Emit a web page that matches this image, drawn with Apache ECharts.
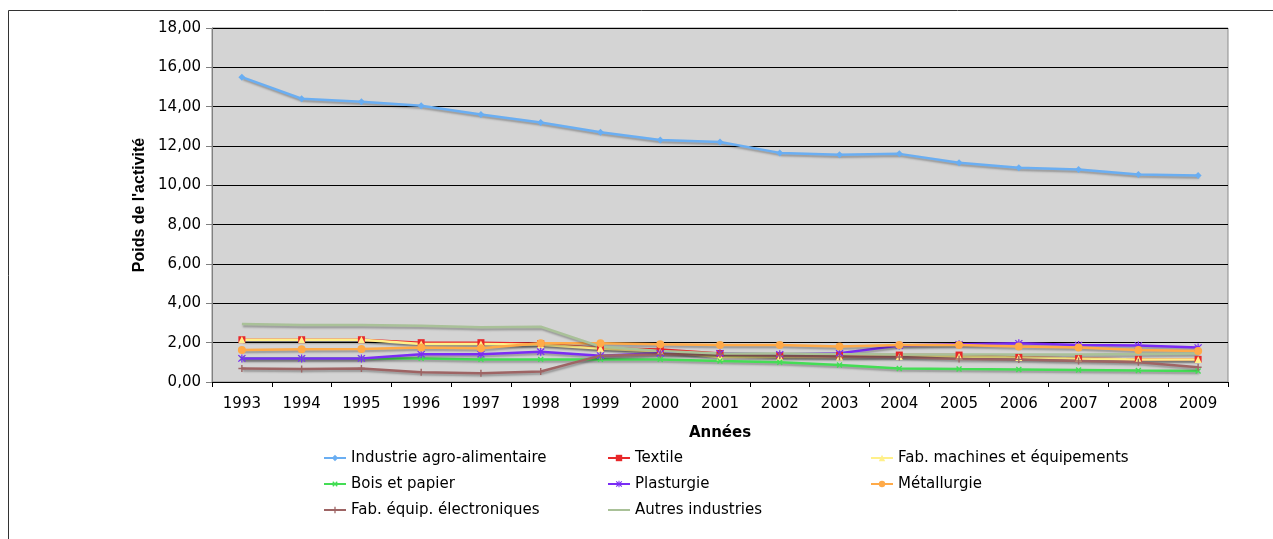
<!DOCTYPE html>
<html>
<head>
<meta charset="utf-8">
<script src="https://cdn.jsdelivr.net/npm/echarts@6/dist/echarts.min.js"></script>
<style>
  html, body { margin: 0; padding: 0; background: #fff; }
  #chart { width: 1273px; height: 539px; }
</style>
</head>
<body>
<div id="chart"></div>
<script>
// years on the x axis
let annees = ["1993", "1994", "1995", "1996", "1997", "1998", "1999", "2000", "2001",
  "2002", "2003", "2004", "2005", "2006", "2007", "2008", "2009"];

// weight of each activity
let agroAlimentaire = [15.5, 14.4, 14.25, 14.05, 13.6, 13.2, 12.7, 12.3, 12.2, 11.65, 11.55, 11.6, 11.15, 10.9, 10.8, 10.55, 10.5];
let textile = [2.15, 2.15, 2.15, 2.0, 2.0, 1.95, 1.72, 1.65, 1.45, 1.35, 1.37, 1.37, 1.37, 1.25, 1.19, 1.15, 1.15];
let machines = [2.15, 2.15, 2.15, 1.93, 1.93, 1.9, 1.7, 1.55, 1.27, 1.27, 1.27, 1.3, 1.3, 1.25, 1.2, 1.15, 1.15];
let boisPapier = [1.2, 1.2, 1.2, 1.2, 1.15, 1.15, 1.15, 1.15, 1.07, 1.0, 0.86, 0.69, 0.66, 0.64, 0.61, 0.58, 0.56];
let plasturgie = [1.2, 1.2, 1.2, 1.41, 1.41, 1.54, 1.34, 1.46, 1.46, 1.41, 1.46, 1.85, 1.92, 1.97, 1.88, 1.85, 1.75];
let metallurgie = [1.63, 1.66, 1.68, 1.75, 1.72, 1.97, 1.97, 1.92, 1.88, 1.88, 1.8, 1.88, 1.88, 1.8, 1.75, 1.63, 1.58];
let electroniques = [0.69, 0.66, 0.69, 0.49, 0.44, 0.53, 1.34, 1.41, 1.41, 1.34, 1.29, 1.27, 1.17, 1.15, 1.07, 1.0, 0.75];
let autres = [2.95, 2.9, 2.9, 2.86, 2.78, 2.81, 1.8, 1.58, 1.45, 1.45, 1.42, 1.4, 1.4, 1.4, 1.4, 1.42, 1.45];

// marker shapes
let plusPath = "path://M4,0H6V4H10V6H6V10H4V6H0V4H4Z";
let starPath = "path://M4.3,0H5.7V10H4.3Z M0.5,1.5L1.5,0.5L9.5,8.5L8.5,9.5Z M8.5,0.5L9.5,1.5L1.5,9.5L0.5,8.5Z";

let police = "DejaVu Sans, Arial, sans-serif";

let myChart = echarts.init(document.getElementById("chart"));

function ligne(name, data, color, symbol, size, extra) {
  let s = {
    name: name,
    type: "line",
    data: data,
    symbol: symbol,
    symbolSize: size,
    color: color,
    lineStyle: {
      width: 2.5,
      color: color,
      shadowColor: "rgba(0,0,0,0.3)",
      shadowBlur: 2,
      shadowOffsetX: 1,
      shadowOffsetY: 2,
    },
    itemStyle: { color: color },
    animation: false,
  };
  return Object.assign(s, extra || {});
}

function legende(left, noms) {
  return {
    left: left,
    top: 450,
    padding: 0,
    orient: "vertical",
    itemWidth: 22,
    itemHeight: 8,
    itemGap: 10,
    textStyle: { fontFamily: police, fontSize: 15, color: "#000", lineHeight: 16 },
    data: noms,
  };
}

myChart.setOption({
  textStyle: { fontFamily: police },
  graphic: [
    {
      type: "rect",
      shape: { x: 8.5, y: 10.5, width: 1300, height: 600 },
      style: { fill: "none", stroke: "#333", lineWidth: 1 },
      silent: true,
    },
  ],
  grid: {
    left: 212,
    top: 28,
    width: 1016,
    height: 354,
    show: true,
    backgroundColor: "#d4d4d4",
    borderColor: "#8c8c8c",
    borderWidth: 1,
  },
  xAxis: {
    type: "category",
    data: annees,
    boundaryGap: true,
    name: "Années",
    nameLocation: "middle",
    nameGap: 44,
    nameTextStyle: { fontWeight: "bold", fontSize: 15, color: "#000" },
    axisLine: { lineStyle: { color: "#000", width: 1 } },
    axisTick: { show: true, length: 5, lineStyle: { color: "#000" } },
    axisLabel: { color: "#000", fontSize: 15, margin: 15 },
  },
  yAxis: {
    type: "value",
    min: 0,
    max: 18,
    interval: 2,
    name: "Poids de l'activité",
    nameLocation: "middle",
    nameGap: 64,
    nameTextStyle: {
      fontFamily: "Liberation Sans, Arial, sans-serif",
      fontWeight: "bold",
      fontSize: 16,
      color: "#000",
    },
    axisLine: { show: true, lineStyle: { color: "#808080", width: 1 } },
    axisTick: { show: true, inside: false, length: 6, lineStyle: { color: "#808080" } },
    axisLabel: {
      color: "#000",
      fontSize: 15,
      margin: 11,
      formatter: (v) => v.toFixed(2).replace(".", ","),
    },
    splitLine: { show: true, lineStyle: { color: "#000", width: 1 } },
  },
  legend: [
    legende(323, ["Industrie agro-alimentaire", "Bois et papier", "Fab. équip. électroniques"]),
    legende(607, ["Textile", "Plasturgie", { name: "Autres industries", itemStyle: { opacity: 0 } }]),
    legende(870, ["Fab. machines et équipements", "Métallurgie"]),
  ],
  series: [
    ligne("Industrie agro-alimentaire", agroAlimentaire, "#6aaef2", "diamond", 7),
    ligne("Textile", textile, "#e8282a", "rect", 7),
    ligne("Fab. machines et équipements", machines, "#fff08a", "triangle", 7),
    ligne("Bois et papier", boisPapier, "#44dd55", plusPath, 7, { symbolRotate: 45 }),
    ligne("Plasturgie", plasturgie, "#7a2cf5", starPath, 8),
    ligne("Métallurgie", metallurgie, "#ffaa48", "circle", 8),
    ligne("Fab. équip. électroniques", electroniques, "#9e6464", plusPath, 7),
    ligne("Autres industries", autres, "#a9c198", "none", 0),
  ],
});
</script>
</body>
</html>
